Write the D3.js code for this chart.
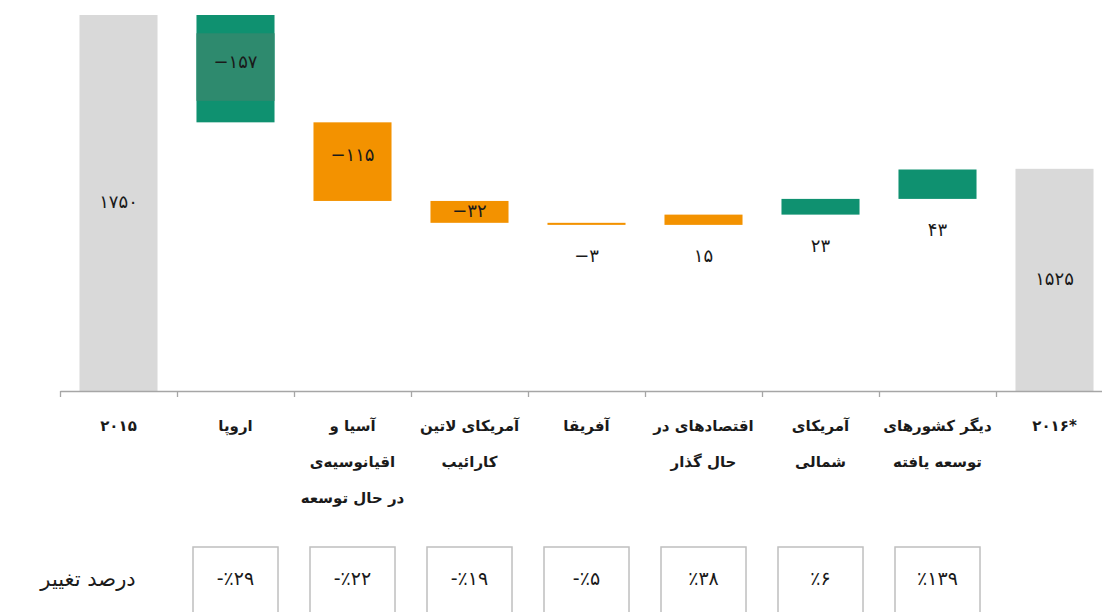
<!DOCTYPE html>
<html>
<head>
<meta charset="utf-8">
<script src="https://cdn.jsdelivr.net/npm/d3@7"></script>
<style>
  body { margin: 0; background: #fff; }
  svg { display: block; }
</style>
</head>
<body>
<div id="chart"></div>
<script>
// categories (left to right) and their label lines
const categories = ['2015', 'europe', 'asia', 'latin', 'africa', 'transition', 'namerica', 'developed', '2016']
const catLabels = [
  ['۲۰۱۵'],
  ['اروپا'],
  ['آسیا و', 'اقیانوسیه‌ی', 'در حال توسعه'],
  ['آمریکای لاتین', 'کارائیب'],
  ['آفریقا'],
  ['اقتصادهای در', 'حال گذار'],
  ['آمریکای', 'شمالی'],
  ['دیگر کشورهای', 'توسعه یافته'],
  ['۲۰۱۶*']
]
// first and last are totals, the rest are changes
const values = [1750, -157, -115, -32, -3, 15, 23, 43, 1525]
const isTotal = [true, false, false, false, false, false, false, false, true]
const barColors = ['#d9d9d9', '#0f9170', '#f39200', '#f39200', '#f39200', '#f39200', '#0f9170', '#0f9170', '#d9d9d9']
// percent change for the 7 regions
const pctValues = [-29, -22, -19, -5, 38, 6, 139]
const pctTitle = 'درصد تغییر'
const yDomain = [1200, 1750]

const width = 1102
const height = 612

const faDigits = s => String(s).replace(/\d/g, d => '۰۱۲۳۴۵۶۷۸۹'[d])

// running totals for waterfall
let run = 0
const bars = categories.map((c, i) => {
  let y0, y1
  if (isTotal[i]) { y0 = yDomain[0]; y1 = values[i]; run = values[i] }
  else { y0 = run; y1 = run + values[i]; run = y1 }
  return {cat: c, i: i, v: values[i], y0: y0, y1: y1, total: isTotal[i]}
})

const x = d3.scaleBand()
  .domain(categories)
  .range([60, 60 + 117 * categories.length])
  .paddingInner(0.333)
  .paddingOuter(0.1665)

const yScale = d3.scaleLinear()
  .domain(yDomain)
  .range([391, 15])

const tickScale = d3.scaleLinear()
  .domain([0, categories.length])
  .range(x.range())

const svg = d3.select('#chart')
  .append('svg')
  .attr('width', width)
  .attr('height', height)

svg.selectAll('rect.bar')
  .data(bars)
  .enter()
  .append('rect')
  .attr('class', 'bar')
  .attr('x', d => x(d.cat))
  .attr('width', x.bandwidth())
  .attr('y', d => yScale(Math.max(d.y0, d.y1)))
  .attr('height', d => Math.max(1.5, Math.abs(yScale(d.y0) - yScale(d.y1))))
  .attr('fill', d => barColors[d.i])

// the muted band in the middle of the europe bar
const eu = bars[1]
const euTop = yScale(Math.max(eu.y0, eu.y1)), euBot = yScale(Math.min(eu.y0, eu.y1))
svg.append('rect')
  .attr('x', x(eu.cat))
  .attr('width', x.bandwidth())
  .attr('y', euTop + (euBot - euTop) * 0.17)
  .attr('height', (euBot - euTop) * 0.63)
  .attr('fill', '#2e8a6e')

// axis with ticks on the category boundaries
const xAxis = d3.axisBottom(tickScale)
  .tickValues(d3.range(categories.length))
  .tickFormat('')
  .tickSize(6)
  .tickSizeOuter(0)

svg.append('g')
  .attr('transform', 'translate(0,' + yScale(yDomain[0]) + ')')
  .call(xAxis)
  .call(g => g.selectAll('path, line').attr('stroke', '#a6a6a6').attr('stroke-width', 1.3))

// value labels
svg.selectAll('text.val')
  .data(bars)
  .enter()
  .append('text')
  .attr('class', 'val')
  .attr('x', d => x(d.cat) + x.bandwidth() / 2)
  .attr('y', d => {
    const top = yScale(Math.max(d.y0, d.y1)), bot = yScale(Math.min(d.y0, d.y1))
    if (d.total) return (top + bot) / 2
    if (d.v < 0 && bot - top > 12) return (top + bot) / 2 - (bot - top > 40 ? 6 : 0)
    return bot + 32
  })
  .attr('text-anchor', 'middle')
  .attr('dominant-baseline', 'middle')
  .style('font-family', 'DejaVu Sans')
  .style('font-size', '18px')
  .style('fill', '#1a1a1a')
  .style('direction', 'ltr')
  .style('unicode-bidi', 'bidi-override')
  .text(d => (d.v < 0 ? '−' : '') + faDigits(Math.abs(d.v)))

// category labels
const cl = svg.selectAll('text.cat')
  .data(bars)
  .enter()
  .append('text')
  .attr('class', 'cat')
  .attr('text-anchor', 'middle')
  .style('font-family', 'DejaVu Sans')
  .style('font-weight', 'bold')
  .style('font-size', '15px')
  .style('fill', '#1a1a1a')

cl.selectAll('tspan')
  .data(d => catLabels[d.i].map(t => ({t: t, d: d})))
  .enter()
  .append('tspan')
  .attr('x', o => x(o.d.cat) + x.bandwidth() / 2)
  .attr('y', (o, j) => 431 + j * 36)
  .text(o => o.t)

// percent change boxes
const regions = categories.slice(1, categories.length - 1)
const boxW = 85
svg.selectAll('rect.pct')
  .data(pctValues)
  .enter()
  .append('rect')
  .attr('class', 'pct')
  .attr('x', (d, i) => x(regions[i]) + x.bandwidth() / 2 - boxW / 2)
  .attr('y', 547)
  .attr('width', boxW)
  .attr('height', 90)
  .attr('fill', 'none')
  .attr('stroke', '#bfbfbf')
  .attr('stroke-width', 1.5)

svg.selectAll('text.pct')
  .data(pctValues)
  .enter()
  .append('text')
  .attr('class', 'pct')
  .attr('x', (d, i) => x(regions[i]) + x.bandwidth() / 2)
  .attr('y', 579)
  .attr('text-anchor', 'middle')
  .attr('dominant-baseline', 'middle')
  .style('font-family', 'DejaVu Sans')
  .style('font-size', '19px')
  .style('fill', '#1a1a1a')
  .style('direction', 'ltr')
  .style('unicode-bidi', 'bidi-override')
  .text(d => (d < 0 ? '-' : '') + '٪' + faDigits(Math.abs(d)))

svg.append('text')
  .attr('x', 88)
  .attr('y', 580)
  .attr('text-anchor', 'middle')
  .attr('dominant-baseline', 'middle')
  .style('font-family', 'DejaVu Sans')
  .style('font-size', '21px')
  .style('fill', '#1a1a1a')
  .text(pctTitle)
</script>
</body>
</html>
